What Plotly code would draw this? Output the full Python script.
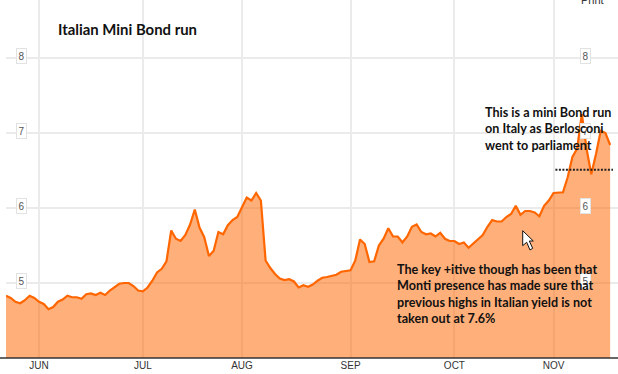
import plotly.graph_objects as go

yields = [4.83,4.80,4.75,4.73,4.77,4.83,4.80,4.75,4.72,4.65,4.68,4.75,4.78,4.83,4.81,4.81,4.79,4.85,4.86,4.84,
          4.87,4.84,4.90,4.95,4.99,5.00,5.00,4.96,4.90,4.89,4.94,5.03,5.14,5.19,5.29,5.70,5.59,5.56,5.64,5.78,
          5.98,5.74,5.61,5.36,5.43,5.68,5.65,5.77,5.84,5.88,6.00,6.14,6.10,6.20,6.10,5.30,5.20,5.12,5.06,5.04,
          5.05,5.02,4.94,4.97,4.95,4.98,5.03,5.07,5.08,5.09,5.11,5.15,5.16,5.17,5.30,5.58,5.52,5.28,5.29,5.50,
          5.59,5.73,5.62,5.62,5.54,5.62,5.75,5.78,5.68,5.65,5.66,5.62,5.67,5.59,5.56,5.56,5.52,5.54,5.47,5.53,
          5.59,5.64,5.75,5.84,5.82,5.82,5.88,5.92,6.03,5.91,5.96,5.96,5.94,5.89,6.03,6.10,6.20,6.20,6.21,6.41,
          6.68,6.79,7.25,6.79,6.45,6.72,7.03,7.00,6.84]
session = list(range(len(yields)))
month_sessions = [7, 29, 50, 73, 95, 116]
month_labels = ["JUN", "JUL", "AUG", "SEP", "OCT", "NOV"]
y_ticks = [5, 6, 7, 8]
dotted_sessions = [116.4, 128.6]
dotted_level = [6.51, 6.51]

W, H, L, B = 618, 374, 6, 16
PW, PH = W - L, H - B
px = lambda v: (v - L) / PW
py = lambda v: 1 - v / PH

fig = go.Figure()
fig.add_trace(go.Scatter(x=session, y=yields, mode="lines", fill="tozeroy",
                         fillcolor="rgba(255,102,0,0.52)",
                         line=dict(color="#FF6600", width=2.2), hoverinfo="skip"))
fig.add_trace(go.Scatter(x=dotted_sessions, y=dotted_level, mode="lines",
                         line=dict(color="#222222", width=2, dash="2px,1.5px"), hoverinfo="skip"))

ann = []
for v in y_ticks:
    for cx in (21, 585.5):
        ann.append(dict(xref="paper", yref="y", x=px(cx), y=v, yshift=2, text=str(v), showarrow=False,
                        xanchor="center", yanchor="middle",
                        font=dict(family="Liberation Sans", size=10, color="#555555"),
                        bgcolor="white", bordercolor="#e2e2e2", borderwidth=1, borderpad=1,
                        width=7, height=12))


def note(x, y, text, size=12.6):
    ann.append(dict(xref="paper", yref="paper", x=px(x), y=py(y), text=text, showarrow=False,
                    xanchor="left", yanchor="top", align="left",
                    font=dict(family="Lato", size=size, color="#111111", weight="bold")))


note(56, 18, "Italian Mini Bond run", 14.9)
note(483, 103, "This is a mini Bond run<br>on Italy as Berlosconi<br>went to parliament")
note(395, 260, "The key +itive though has been that<br>Monti presence has made sure that<br>previous highs in Italian yield is not<br>taken out at 7.6%")
ann.append(dict(xref="paper", yref="paper", x=px(579), y=py(8), text="Print", showarrow=False,
                xanchor="left", yanchor="bottom",
                font=dict(family="Liberation Sans", size=11, color="#333333")))

cursor = [(522.7, 230.7), (522.7, 245.7), (526.7, 242.3), (530, 250), (532.7, 248.3), (529.3, 241), (533.3, 241)]
path = "M" + " L".join(f"{px(a):.4f},{py(b):.4f}" for a, b in cursor) + " Z"

fig.update_layout(
    width=W, height=H, margin=dict(l=L, r=0, t=0, b=B), autosize=False,
    paper_bgcolor="white", plot_bgcolor="white", showlegend=False, annotations=ann,
    shapes=[
        dict(type="line", xref="paper", yref="paper", x0=px(0), x1=1, y0=0, y1=0,
             line=dict(color="#333333", width=1.5)),
        dict(type="path", xref="paper", yref="paper", path=path, fillcolor="white",
             line=dict(color="#111111", width=1)),
    ],
    xaxis=dict(range=[0, PW / 4.72], tickmode="array", tickvals=month_sessions, ticktext=month_labels,
               showgrid=True, gridcolor="#ebebeb", gridwidth=2, ticks="", zeroline=False, showline=False,
               tickfont=dict(family="Liberation Sans", size=10, color="#333333")),
    yaxis=dict(range=[4, 4 + PH / 75], tickmode="array", tickvals=y_ticks, showticklabels=False,
               showgrid=True, gridcolor="#ebebeb", gridwidth=2, ticks="", zeroline=False, showline=False),
)
fig.write_html("out.html", config=dict(displayModeBar=False),
               post_script="document.body.style.margin='0';document.body.style.overflow='hidden';")
